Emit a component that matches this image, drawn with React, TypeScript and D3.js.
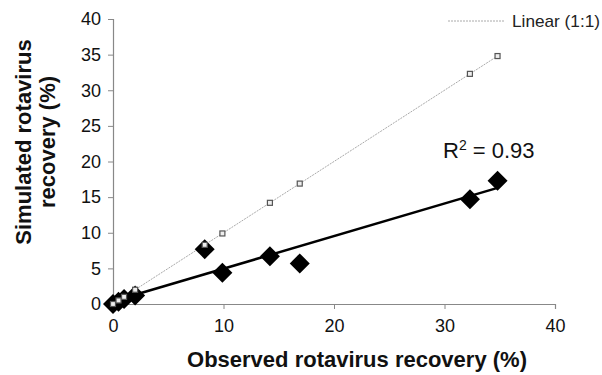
import React, { useEffect, useRef } from 'react';
import * as d3 from 'd3';

// observed vs simulated rotavirus recovery (%)
const observed = [0, 0.5, 1.0, 2.0, 8.3, 9.9, 14.2, 16.9, 32.3, 34.8];
const simulated = [0, 0.3, 0.7, 1.2, 7.7, 4.4, 6.7, 5.7, 14.7, 17.3];
const xTicks = [0, 10, 20, 30, 40];
const yTicks = [0, 5, 10, 15, 20, 25, 30, 35, 40];
const r2Label = '0.93';

const App: React.FC = () => {
    const ref = useRef<SVGSVGElement>(null);

    useEffect(() => {
        const svg = d3.select(ref.current);
        svg.selectAll('*').remove();

        const x = d3.scaleLinear().domain([0, 40]).range([113, 555]);
        const y = d3.scaleLinear().domain([0, 40]).range([304, 19]);
        const font = 'Liberation Sans, Arial, sans-serif';

        // axes
        const gx = svg.append('g')
            .attr('transform', `translate(0,${y(0)})`)
            .call(d3.axisBottom(x).tickValues(xTicks).tickSize(5).tickSizeOuter(5));
        const gy = svg.append('g')
            .attr('transform', `translate(${x(0)},0)`)
            .call(d3.axisLeft(y).tickValues(yTicks).tickSize(5).tickSizeOuter(5));
        [gx, gy].forEach(g => {
            g.select('.domain').attr('stroke', '#888').attr('stroke-width', 1.2);
            g.selectAll('.tick line').attr('stroke', '#888');
            g.selectAll('.tick text')
                .attr('fill', '#111')
                .style('font-family', font)
                .style('font-size', '18px');
        });
        gx.selectAll('.tick text').attr('dy', '1.1em');
        gy.selectAll('.tick text').attr('x', -12);

        // 1:1 line
        const pts = observed.map((o, i) => ({ o, s: simulated[i] }));
        svg.append('line')
            .attr('x1', x(0)).attr('y1', y(0))
            .attr('x2', x(d3.max(observed)!)).attr('y2', y(d3.max(observed)!))
            .attr('stroke', '#aaa')
            .attr('stroke-width', 1)
            .attr('stroke-dasharray', '2,1');

        // regression line (least squares)
        const mx = d3.mean(observed)!;
        const my = d3.mean(simulated)!;
        const slope = d3.sum(pts, d => (d.o - mx) * (d.s - my)) / d3.sum(pts, d => (d.o - mx) ** 2);
        const icpt = my - slope * mx;
        svg.append('line')
            .attr('x1', x(0)).attr('y1', y(icpt))
            .attr('x2', x(d3.max(observed)!)).attr('y2', y(icpt + slope * d3.max(observed)!))
            .attr('stroke', '#000')
            .attr('stroke-width', 2.5);

        // diamonds
        const diamond = d3.symbol().type(d3.symbolSquare).size(200);
        svg.selectAll('path.obs')
            .data(pts)
            .enter()
            .append('path')
            .attr('class', 'obs')
            .attr('d', diamond)
            .attr('transform', d => `translate(${x(d.o)},${y(d.s)}) rotate(45)`)
            .attr('fill', '#000');

        // 1:1 squares
        svg.selectAll('rect.one')
            .data(observed)
            .enter()
            .append('rect')
            .attr('class', 'one')
            .attr('x', d => x(d) - 2.5)
            .attr('y', d => y(d) - 2.5)
            .attr('width', 5)
            .attr('height', 5)
            .attr('fill', '#eee')
            .attr('stroke', '#555')
            .attr('stroke-width', 1.2);

        // legend
        svg.append('line')
            .attr('x1', 448).attr('x2', 505)
            .attr('y1', 21).attr('y2', 21)
            .attr('stroke', '#aaa')
            .attr('stroke-dasharray', '2,1');
        svg.append('text')
            .attr('x', 512).attr('y', 27)
            .attr('textLength', 88)
            .attr('lengthAdjust', 'spacingAndGlyphs')
            .style('font-family', font)
            .style('font-size', '17px')
            .attr('fill', '#222')
            .text('Linear (1:1)');

        // R² label
        const r = svg.append('text')
            .attr('x', 443).attr('y', 158)
            .style('font-family', font)
            .style('font-size', '22px')
            .attr('fill', '#111');
        r.append('tspan').text('R');
        r.append('tspan').attr('dy', -8).style('font-size', '14px').text('2');
        r.append('tspan').attr('dy', 8).text(` = ${r2Label}`);

        // axis titles
        svg.append('text')
            .attr('x', 357).attr('y', 367)
            .attr('text-anchor', 'middle')
            .style('font-family', font)
            .style('font-size', '22px')
            .style('font-weight', 'bold')
            .attr('fill', '#111')
            .text('Observed rotavirus recovery (%)');
        const yt = svg.append('text')
            .attr('transform', 'translate(31,142) rotate(-90)')
            .attr('text-anchor', 'middle')
            .style('font-family', font)
            .style('font-size', '22px')
            .style('font-weight', 'bold')
            .attr('fill', '#111');
        yt.append('tspan').attr('x', 0).attr('y', 0).text('Simulated rotavirus');
        yt.append('tspan').attr('x', 0).attr('y', 24).text('recovery (%)');
    }, []);

    return (
        <svg ref={ref} width={602} height={375}
            style={{ position: 'absolute', left: 0, top: 0, background: 'white' }} />
    );
};

export default App;
